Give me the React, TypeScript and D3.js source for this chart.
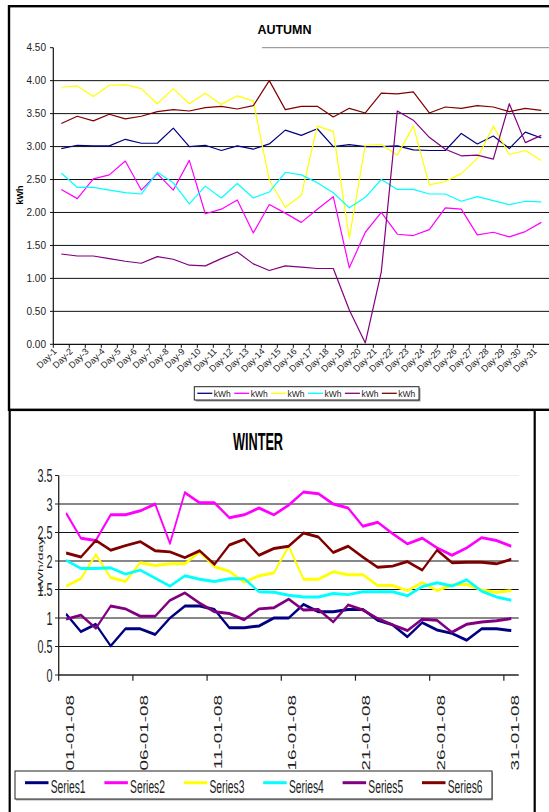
import React from "react";
import * as d3 from "d3";

// ---------- AUTUMN data ----------
const autumnDays = d3.range(1, 32).map((d) => `Day-${d}`);
const autumnYTicks = [0, 0.5, 1, 1.5, 2, 2.5, 3, 3.5, 4, 4.5];
const autumnSeriesNames = ["kWh", "kWh", "kWh", "kWh", "kWh", "kWh"];
const autumnColors = ["#000080", "#FF00FF", "#FFFF00", "#00FFFF", "#800080", "#800000"];
const aNavy = [2.97, 3.02, 3.01, 3.01, 3.11, 3.05, 3.05, 3.28, 3.0, 3.02, 2.94, 3.01, 2.96, 3.04, 3.25, 3.17, 3.27, 3.0, 3.03, 3.0, 3.0, 3.01, 2.95, 2.94, 2.94, 3.2, 3.04, 3.16, 2.97, 3.22, 3.13];
const aMagenta = [2.35, 2.21, 2.51, 2.57, 2.78, 2.34, 2.59, 2.34, 2.79, 1.98, 2.05, 2.19, 1.69, 2.12, 1.99, 1.85, 2.05, 2.24, 1.16, 1.7, 2.0, 1.67, 1.65, 1.74, 2.07, 2.05, 1.66, 1.7, 1.63, 1.71, 1.85];
const aYellow = [3.9, 3.92, 3.76, 3.93, 3.94, 3.88, 3.65, 3.88, 3.65, 3.81, 3.64, 3.77, 3.69, 2.49, 2.08, 2.26, 3.31, 3.23, 1.61, 3.02, 3.03, 2.87, 3.31, 2.42, 2.47, 2.59, 2.82, 3.31, 2.88, 2.94, 2.79];
const aCyan = [2.6, 2.38, 2.38, 2.34, 2.3, 2.28, 2.61, 2.45, 2.13, 2.4, 2.22, 2.44, 2.22, 2.31, 2.61, 2.57, 2.45, 2.3, 2.07, 2.23, 2.5, 2.35, 2.35, 2.28, 2.28, 2.17, 2.24, 2.18, 2.12, 2.17, 2.16];
const aPurple = [1.37, 1.34, 1.34, 1.3, 1.26, 1.23, 1.33, 1.29, 1.2, 1.19, 1.3, 1.4, 1.22, 1.12, 1.19, 1.17, 1.15, 1.15, 0.52, 0.02, 1.1, 3.54, 3.4, 3.14, 2.96, 2.86, 2.87, 2.81, 3.65, 3.06, 3.17];
const aMaroon = [3.35, 3.46, 3.39, 3.49, 3.42, 3.46, 3.53, 3.56, 3.54, 3.59, 3.61, 3.57, 3.62, 4.0, 3.56, 3.61, 3.61, 3.45, 3.58, 3.51, 3.81, 3.8, 3.83, 3.51, 3.6, 3.58, 3.62, 3.6, 3.53, 3.58, 3.55];
const autumnSeries = [aNavy, aMagenta, aYellow, aCyan, aPurple, aMaroon];

// ---------- WINTER data ----------
const winterDays = d3.range(1, 32);
const winterTickLabels = ["01-01-08", "06-01-08", "11-01-08", "16-01-08", "21-01-08", "26-01-08", "31-01-08"];
const winterYTicks = [0, 0.5, 1, 1.5, 2, 2.5, 3, 3.5];
const winterSeriesNames = ["Series1", "Series2", "Series3", "Series4", "Series5", "Series6"];
const winterColors = ["#000080", "#FF00FF", "#FFFF00", "#00FFFF", "#800080", "#800000"];
const w1 = [1.07, 0.76, 0.89, 0.51, 0.81, 0.81, 0.71, 1.0, 1.21, 1.21, 1.15, 0.83, 0.83, 0.86, 1.0, 1.0, 1.24, 1.11, 1.11, 1.15, 1.15, 0.96, 0.88, 0.67, 0.92, 0.79, 0.73, 0.61, 0.81, 0.81, 0.78];
const w2 = [2.84, 2.4, 2.36, 2.81, 2.81, 2.88, 3.0, 2.31, 3.2, 3.02, 3.02, 2.76, 2.81, 2.93, 2.81, 2.98, 3.21, 3.18, 3.0, 2.93, 2.61, 2.68, 2.48, 2.3, 2.4, 2.23, 2.1, 2.23, 2.41, 2.36, 2.26];
const w3 = [1.56, 1.69, 2.11, 1.71, 1.64, 1.97, 1.92, 1.95, 1.95, 2.16, 1.9, 1.82, 1.63, 1.74, 1.79, 2.26, 1.68, 1.68, 1.81, 1.76, 1.76, 1.57, 1.57, 1.48, 1.62, 1.48, 1.58, 1.59, 1.49, 1.45, 1.48];
const w4 = [2.01, 1.87, 1.87, 1.88, 1.77, 1.84, 1.7, 1.56, 1.74, 1.68, 1.64, 1.69, 1.69, 1.46, 1.45, 1.4, 1.37, 1.37, 1.43, 1.41, 1.46, 1.46, 1.46, 1.39, 1.55, 1.62, 1.56, 1.67, 1.47, 1.37, 1.31];
const w5 = [0.98, 1.05, 0.82, 1.21, 1.16, 1.03, 1.03, 1.31, 1.44, 1.26, 1.11, 1.08, 0.97, 1.16, 1.18, 1.33, 1.14, 1.15, 0.93, 1.23, 1.14, 0.99, 0.88, 0.78, 0.98, 0.96, 0.75, 0.89, 0.93, 0.95, 0.99];
const w6 = [2.14, 2.07, 2.36, 2.19, 2.27, 2.34, 2.18, 2.16, 2.06, 2.18, 1.94, 2.28, 2.38, 2.1, 2.22, 2.26, 2.49, 2.42, 2.15, 2.26, 2.07, 1.89, 1.91, 1.99, 1.84, 2.19, 1.97, 1.98, 1.98, 1.95, 2.03];
const winterSeries = [w1, w2, w3, w4, w5, w6];

const FONT = "'Liberation Sans', Arial, sans-serif";
const S = 1.75; // vertical stretch of the winter picture

function Autumn() {
  const x = d3.scaleBand<string>().domain(autumnDays).range([53.3, 549.3]).paddingInner(0).paddingOuter(0);
  const y = d3.scaleLinear().domain([0, 4.5]).range([344.3, 47.7]);
  const cx = (i: number) => (x(autumnDays[i]) as number) + x.bandwidth() / 2;
  const line = d3
    .line<number>()
    .x((_, i) => cx(i))
    .y((v) => y(v));
  return (
    <g fontFamily={FONT}>
      <rect x={9} y={6.2} width={600} height={403.6} fill="#fff" stroke="#000" strokeWidth={2.4} />
      <text x={284.5} y={34} textAnchor="middle" fontWeight="bold" fontSize={12.5}>AUTUMN</text>
      {/* plot top border */}
      <line x1={262} x2={549} y1={y(4.5)} y2={y(4.5)} stroke="#888" strokeWidth={1} />
      {autumnYTicks.filter((t) => t > 0 && t < 4.5).map((t) => (
        <line key={t} x1={53.3} x2={549.3} y1={y(t)} y2={y(t)} stroke="#111" strokeWidth={1} />
      ))}
      {/* axes */}
      <line x1={53.3} x2={53.3} y1={y(4.5)} y2={y(0)} stroke="#111" strokeWidth={1.2} />
      <line x1={53.3} x2={549.3} y1={y(0)} y2={y(0)} stroke="#111" strokeWidth={1.2} />
      {autumnYTicks.map((t) => (
        <g key={t}>
          <line x1={50} x2={53.3} y1={y(t)} y2={y(t)} stroke="#111" />
          <text x={46} y={y(t)} dy="0.35em" textAnchor="end" fontSize={10} fill="#222">
            {d3.format(".2f")(t)}
          </text>
        </g>
      ))}
      {autumnDays.map((d, i) => (
        <g key={d}>
          <line x1={x(d) as number} x2={x(d) as number} y1={y(0)} y2={y(0) + 3.5} stroke="#111" />
          <text
            transform={`translate(${cx(i) - 4},${352}) rotate(-45)`}
            textAnchor="end"
            fontSize={9}
            fill="#222"
          >
            {d}
          </text>
        </g>
      ))}
      <text transform="translate(22.5,195) rotate(-90)" textAnchor="middle" fontWeight="bold" fontSize={9}>kWh</text>
      {autumnSeries.map((s, k) => (
        <path key={k} d={line(s) as string} fill="none" stroke={autumnColors[k]} strokeWidth={1.2} strokeLinejoin="round" />
      ))}
      {/* legend */}
      <rect x={195.8} y={388.2} width={224.7} height={13.3} fill="#999" />
      <rect x={194.3} y={386.7} width={224.7} height={13.3} fill="#fff" stroke="#222" strokeWidth={1} />
      {autumnSeriesNames.map((n, k) => {
        const x0 = 197.3 + k * 36.9;
        return (
          <g key={k}>
            <line x1={x0} x2={x0 + 15} y1={393.3} y2={393.3} stroke={autumnColors[k]} strokeWidth={1.3} />
            <text x={x0 + 16.5} y={396.6} fontSize={8.5} fill="#222">{n}</text>
          </g>
        );
      })}
    </g>
  );
}

function Winter() {
  const x = d3.scaleBand<number>().domain(winterDays).range([58.7, 518.7]).paddingInner(0).paddingOuter(0);
  const bw = x.bandwidth();
  const cx = (i: number) => (x(winterDays[i]) as number) + bw / 2;
  const y = d3.scaleLinear().domain([0, 3.5]).range([675, 475.5]);
  const yIn = d3.scaleLinear().domain([0, 3.5]).range([0, -(675 - 475.5) / S]);
  const line = d3
    .line<number>()
    .x((_, i) => cx(i))
    .y((v) => yIn(v));
  const boundaries = [0, 5, 10, 15, 20, 25, 30];
  return (
    <g fontFamily={FONT}>
      <rect x={9.7} y={410} width={525} height={500} fill="#fff" stroke="#000" strokeWidth={2.2} />
      <text transform={`translate(258,450) scale(1,1.85)`} textAnchor="middle" fontWeight="bold" fontSize={12.7}>WINTER</text>
      <line x1={58.7} x2={518.7} y1={y(3.5)} y2={y(3.5)} stroke="#eee" />
      {winterYTicks.filter((t) => t > 0 && t < 3.5).map((t) => (
        <line key={t} x1={58.7} x2={518.7} y1={y(t)} y2={y(t)} stroke="#111" strokeWidth={1} />
      ))}
      <line x1={58.7} x2={58.7} y1={y(3.5)} y2={y(0)} stroke="#222" strokeWidth={1.3} />
      <line x1={58.7} x2={518.7} y1={y(0)} y2={y(0)} stroke="#222" strokeWidth={1.3} />
      {winterYTicks.map((t) => (
        <g key={t}>
          <line x1={55} x2={58.7} y1={y(t)} y2={y(t)} stroke="#222" />
          <text transform={`translate(52.5,${y(t)}) scale(1,${S})`} dy="0.36em" textAnchor="end" fontSize={10.8} fill="#222">
            {String(t)}
          </text>
        </g>
      ))}
      {boundaries.map((b) => {
        const bx = 58.7 + b * bw;
        return <line key={b} x1={bx} x2={bx} y1={y(0)} y2={y(0) + 5.7} stroke="#222" strokeWidth={1.2} />;
      })}
      {winterTickLabels.map((lab, j) => (
        <text
          key={lab}
          transform={`translate(${cx(j * 5) + 7.5},695) scale(1,${S}) rotate(-90)`}
          textAnchor="end"
          fontSize={10.8}
          fill="#222"
        >
          {lab}
        </text>
      ))}
      <text transform={`translate(43,565) scale(1,${S}) rotate(-90)`} textAnchor="middle" fontSize={8} fill="#222">kWh/day</text>
      <g transform={`translate(0,675) scale(1,${S})`}>
        {winterSeries.map((s, k) => (
          <path key={k} d={line(s) as string} fill="none" stroke={winterColors[k]} strokeWidth={1.7} strokeLinejoin="round" />
        ))}
      </g>
      {/* legend */}
      <rect x={16} y={772.5} width={477} height={28} fill="#aaa" />
      <rect x={15} y={771} width={477} height={28} fill="#fff" stroke="#222" strokeWidth={1} />
      {winterSeriesNames.map((n, k) => {
        const x0 = 25 + k * 79.4;
        return (
          <g key={n}>
            <line x1={x0} x2={x0 + 23.5} y1={782.7} y2={782.7} stroke={winterColors[k]} strokeWidth={3} />
            <text transform={`translate(${x0 + 25.7},792.7) scale(1,${S})`} fontSize={10.3} fill="#222">{n}</text>
          </g>
        );
      })}
    </g>
  );
}

export default function App() {
  return (
    <svg
      width={549}
      height={812}
      viewBox="0 0 549 812"
      style={{ position: "absolute", left: 0, top: 0, background: "#fff" }}
    >
      <rect x={0} y={0} width={549} height={812} fill="#fff" />
      <Winter />
      <Autumn />
    </svg>
  );
}
